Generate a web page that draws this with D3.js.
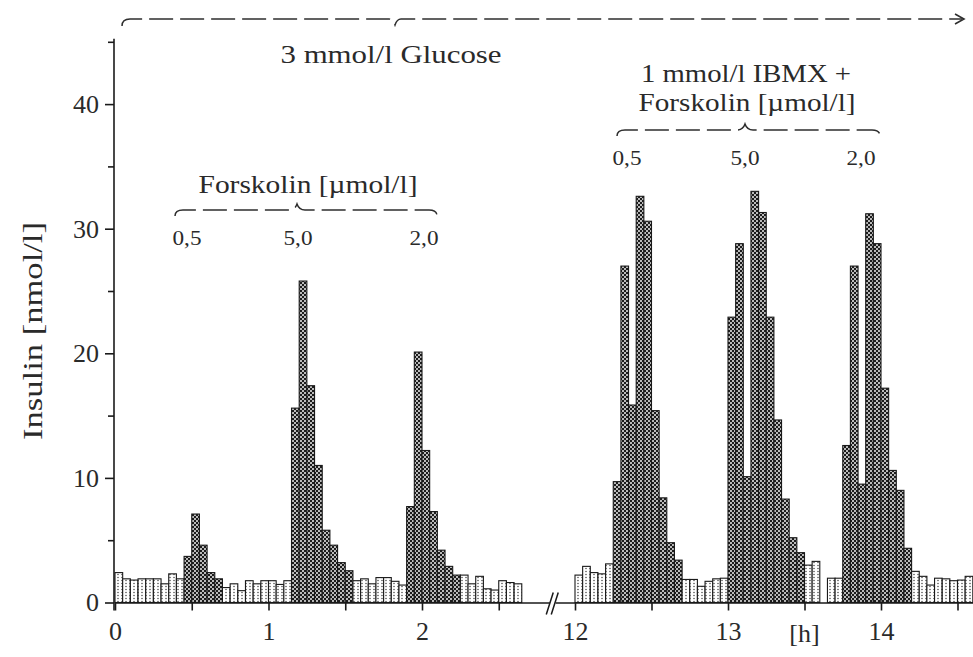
<!DOCTYPE html>
<html>
<head>
<meta charset="utf-8">
<script src="https://cdn.jsdelivr.net/npm/d3@7"></script>
<style>
  html, body { margin: 0; padding: 0; background: #fff; }
  svg { display: block; font-family: "Liberation Serif", "DejaVu Serif", serif; }
</style>
</head>
<body>
<svg id="chart" width="973" height="657"></svg>
<script>
// Insulin release in 3-min fractions (nmol/l)
const step = 0.05;          // fraction length in hours
const leftStart = 0;        // first block starts at 0 h
const rightStart = 12;      // second block starts at 12 h

const insulinLeft = [
  2.4, 1.9, 1.8, 1.9, 1.9, 1.9, 1.5, 2.3, 1.9, 3.7,
  7.1, 4.6, 2.4, 1.9, 1.2, 1.5, 0.95, 1.75, 1.5, 1.75,
  1.75, 1.45, 1.75, 15.6, 25.8, 17.4, 11.0, 5.8, 4.6, 3.2,
  2.55, 1.75, 1.9, 1.5, 2.0, 2.0, 1.7, 1.4, 7.7, 20.1,
  12.2, 7.3, 4.2, 2.9, 2.2, 2.2, 1.5, 2.1, 1.1, 1.0,
  1.75, 1.6, 1.5
];
const insulinRight = [
  2.2, 2.9, 2.4, 2.3, 3.1, 9.7, 27.0, 15.85, 32.6, 30.6,
  15.4, 8.4, 4.8, 3.4, 1.85, 1.85, 1.3, 1.7, 1.9, 1.95,
  22.9, 28.8, 10.1, 33.0, 31.3, 22.9, 14.65, 8.3, 5.2, 4.0,
  3.0, 3.3, 0, 1.95, 1.95, 12.6, 27.0, 9.5, 31.2, 28.8,
  17.2, 10.6, 9.0, 4.35, 2.5, 2.1, 1.4, 1.95, 1.9, 1.75,
  1.8, 2.1
];

// Stimulation periods (h): Forskolin 0.5 / 5.0 / 2.0 µmol/l
const stimLeft = [[0.45, 0.70], [1.15, 1.55], [1.90, 2.25]];
const stimRight = [[12.25, 12.70], [13.00, 13.50], [13.75, 14.20]];

const yTicks = [0, 10, 20, 30, 40];
const yMinor = [5, 15, 25, 35, 45];
const xTicksLeft = [0, 0.5, 1, 1.5, 2, 2.5];
const xTicksRight = [12, 12.5, 13, 13.5, 14, 14.5];
const doseLabels = ["0,5", "5,0", "2,0"];

const svg = d3.select("#chart");
const ink = "#1a1a1a";
const textInk = "#2a2a2a";

// Scales
const y = d3.scaleLinear().domain([0, 45]).range([602.5, 602.5 - 45 * 12.46]);
const xL = d3.scaleLinear().domain([0, 2.83]).range([115, 115 + 2.83 * 153.5]);
const xR = d3.scaleLinear().domain([11.87, 14.62]).range([575 - 0.13 * 153, 575 + 2.62 * 153]);

// Fill patterns: stippled light bars, dense dotted dark bars
const defs = svg.append("defs");
const pd = defs.append("pattern").attr("id", "dark")
  .attr("patternUnits", "userSpaceOnUse").attr("width", 4).attr("height", 4);
pd.append("rect").attr("width", 4).attr("height", 4).attr("fill", "#1c1c1c");
pd.append("circle").attr("cx", 1).attr("cy", 1).attr("r", 0.95).attr("fill", "#fff");
pd.append("circle").attr("cx", 3).attr("cy", 3).attr("r", 0.95).attr("fill", "#fff");

const pl = defs.append("pattern").attr("id", "light")
  .attr("patternUnits", "userSpaceOnUse").attr("width", 4).attr("height", 3);
pl.append("rect").attr("width", 4).attr("height", 3).attr("fill", "#fff");
pl.append("circle").attr("cx", 2).attr("cy", 1.5).attr("r", 0.75).attr("fill", "#444");

// Bars
const segments = [
  { values: insulinLeft, start: leftStart, stim: stimLeft, x: xL },
  { values: insulinRight, start: rightStart, stim: stimRight, x: xR }
];
segments.forEach(seg => {
  const data = seg.values.map((v, i) => {
    const t = seg.start + i * step;
    const dark = seg.stim.some(([a, b]) => t >= a - 1e-6 && t < b - 1e-6);
    return { t, v, dark };
  });
  svg.append("g").selectAll("rect").data(data).join("rect")
    .attr("x", d => seg.x(d.t))
    .attr("width", d => seg.x(d.t + step) - seg.x(d.t))
    .attr("y", d => y(d.v))
    .attr("height", d => y(0) - y(d.v))
    .attr("fill", d => d.dark ? "url(#dark)" : "url(#light)")
    .attr("stroke", ink)
    .attr("stroke-width", 1.1);
});

// Axes
function styleAxis(g) {
  g.selectAll("path, line").attr("stroke", ink).attr("stroke-width", 1.6);
  g.selectAll("text")
    .attr("fill", textInk)
    .attr("font-size", 26)
    .attr("font-family", "Liberation Serif, serif");
}

const gy = svg.append("g")
  .attr("transform", `translate(${xL(0) - 1},0)`)
  .call(d3.axisLeft(y).tickValues(yTicks).tickSize(9).tickSizeOuter(0)
    .tickPadding(6).tickFormat(d3.format("d")));
styleAxis(gy);
gy.select(".domain").attr("d", `M0,${y(45) - 3}V${y(0) + 8}`);

const gyMinor = svg.append("g")
  .attr("transform", `translate(${xL(0) - 1},0)`)
  .call(d3.axisLeft(y).tickValues(yMinor).tickSize(6).tickFormat(""));
gyMinor.select(".domain").remove();
styleAxis(gyMinor);

const fmtHour = d => Number.isInteger(d) ? String(d) : "";
const gxl = svg.append("g")
  .attr("transform", `translate(0,${y(0)})`)
  .call(d3.axisBottom(xL).tickValues(xTicksLeft).tickSize(8).tickSizeOuter(0)
    .tickPadding(11).tickFormat(fmtHour));
styleAxis(gxl);

const gxr = svg.append("g")
  .attr("transform", `translate(0,${y(0)})`)
  .call(d3.axisBottom(xR).tickValues(xTicksRight).tickSize(8).tickSizeOuter(0)
    .tickPadding(11).tickFormat(fmtHour));
styleAxis(gxr);

// Axis break marks
const bx = (xL.range()[1] + xR.range()[0]) / 2;
svg.append("path")
  .attr("d", `M${bx - 6},${y(0) + 12}L${bx + 1},${y(0) - 10}M${bx - 1},${y(0) + 12}L${bx + 6},${y(0) - 10}`)
  .attr("stroke", ink).attr("stroke-width", 1.5).attr("fill", "none");

// Axis titles
svg.append("text")
  .attr("transform", `translate(33,${331}) rotate(-90)`)
  .attr("text-anchor", "middle")
  .attr("dominant-baseline", "central")
  .attr("font-size", 27)
  .attr("fill", textInk)
  .attr("textLength", 218)
  .attr("lengthAdjust", "spacingAndGlyphs")
  .text("Insulin [nmol/l]");

svg.append("text")
  .attr("x", xR(13.5)).attr("y", 642)
  .attr("text-anchor", "middle")
  .attr("font-size", 26)
  .attr("fill", textInk)
  .text("[h]");

// Braces over the stimulation periods
function brace(x0, x1, xm, yy, endDir, tipDir) {
  const e = 6 * endDir, t = 6 * tipDir;
  return `M${x0},${yy + e}Q${x0},${yy} ${x0 + 8},${yy}L${xm - 8},${yy}` +
         `Q${xm - 2},${yy} ${xm},${yy + t}Q${xm + 2},${yy} ${xm + 8},${yy}` +
         `L${x1 - 8},${yy}Q${x1},${yy} ${x1},${yy + e}`;
}
const ann = svg.append("g").attr("fill", "none").attr("stroke", "#2e2e2e")
  .attr("stroke-width", 1.5).attr("stroke-dasharray", "24,7");

// Long bracket: whole experiment at 3 mmol/l glucose
ann.append("path")
  .attr("d", `M122,26Q122,19 130,19L389,19Q393,19 395,25Q397,19 401,19L962,19`);
svg.append("path")
  .attr("d", "M955,14L964,19L955,24")
  .attr("fill", "none").attr("stroke", "#2e2e2e").attr("stroke-width", 1.6);

ann.append("path").attr("d", brace(175, 437, 297, 210, 1, -1));
ann.append("path").attr("d", brace(617, 880, 745, 130, 1, -1));

function label(txt, x, yy, size, len) {
  const t = svg.append("text")
    .attr("x", x).attr("y", yy)
    .attr("text-anchor", "middle")
    .attr("font-size", size)
    .attr("fill", textInk)
    .text(txt);
  if (len) t.attr("textLength", len).attr("lengthAdjust", "spacingAndGlyphs");
  return t;
}

label("3 mmol/l Glucose", 391, 63, 26, 221);
label("Forskolin [µmol/l]", 308, 193, 26, 219);
label("1 mmol/l IBMX +", 746, 82, 26, 210);
label("Forskolin [µmol/l]", 747, 111, 26, 217);

[187, 298, 424].forEach((x, i) => label(doseLabels[i], x, 245, 20, 29));
[627, 745, 861].forEach((x, i) => label(doseLabels[i], x, 165, 20, 29));
</script>
</body>
</html>
